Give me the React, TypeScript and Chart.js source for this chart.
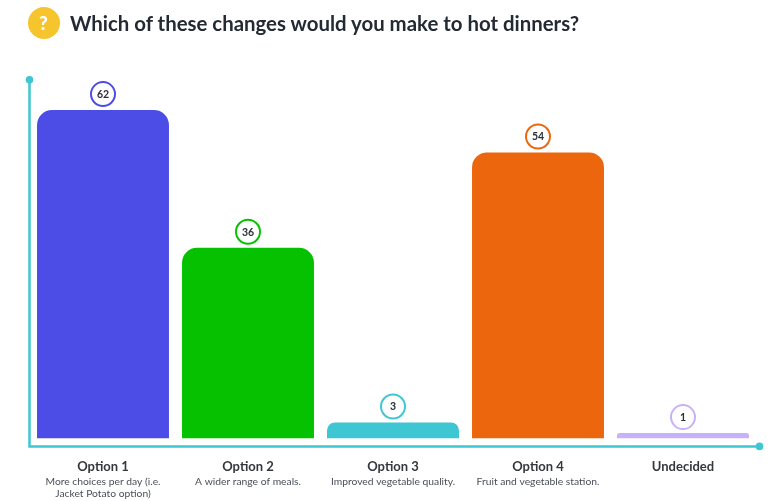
import React, { useEffect, useRef } from "react";
import { Chart, registerables } from "chart.js";

Chart.register(...registerables);

const categories = ["Option 1", "Option 2", "Option 3", "Option 4", "Undecided"];
const details = [
  ["More choices per day (i.e.", "Jacket Potato option)"],
  ["A wider range of meals."],
  ["Improved vegetable quality."],
  ["Fruit and vegetable station."],
  [] as string[],
];
const values = [62, 36, 3, 54, 1];
const barColors = ["#4c4de6", "#05c100", "#3ec6d3", "#ec660e", "#c9b0fb"];

const AXIS = "#3ec6d3";
const FONT = "Lato, sans-serif";

const decorations = {
  id: "decorations",
  afterDatasetsDraw(chart: any) {
    const { ctx, chartArea, scales } = chart;
    const x = scales.x;
    const y = scales.y;
    const axisX = chartArea.left - 1;
    const axisY = chartArea.bottom + 8;
    const endX = x.right + 4;
    const topY = chartArea.top + 1.5;

    ctx.save();
    // axis lines with end dots
    ctx.strokeStyle = AXIS;
    ctx.lineWidth = 2.5;
    ctx.beginPath();
    ctx.moveTo(axisX, topY);
    ctx.lineTo(axisX, axisY);
    ctx.lineTo(endX, axisY);
    ctx.stroke();
    ctx.fillStyle = AXIS;
    ctx.beginPath();
    ctx.arc(axisX, topY, 3.8, 0, Math.PI * 2);
    ctx.fill();
    ctx.beginPath();
    ctx.arc(endX, axisY, 3.8, 0, Math.PI * 2);
    ctx.fill();

    // value badges
    values.forEach((v, i) => {
      const cx = x.getPixelForValue(i);
      const cy = y.getPixelForValue(v) - 16;
      ctx.beginPath();
      ctx.arc(cx, cy, 12, 0, Math.PI * 2);
      ctx.fillStyle = "#ffffff";
      ctx.fill();
      ctx.lineWidth = 2;
      ctx.strokeStyle = barColors[i];
      ctx.stroke();
      ctx.fillStyle = "#2a2f38";
      ctx.font = `700 10.5px ${FONT}`;
      ctx.textAlign = "center";
      ctx.textBaseline = "middle";
      ctx.fillText(String(v), cx, cy + 0.5);
    });

    // option descriptions beneath the tick labels
    ctx.fillStyle = "#4a4f57";
    ctx.font = `400 10.3px ${FONT}`;
    ctx.textAlign = "center";
    ctx.textBaseline = "middle";
    details.forEach((lines, i) => {
      const cx = x.getPixelForValue(i);
      lines.forEach((line, j) => {
        ctx.fillText(line, cx, chartArea.bottom + 43 + j * 12);
      });
    });
    ctx.restore();
  },
};

export default function App() {
  const ref = useRef<HTMLCanvasElement>(null);

  useEffect(() => {
    const chart = new Chart(ref.current!, {
      type: "bar",
      data: {
        labels: categories,
        datasets: [
          {
            data: values,
            backgroundColor: barColors,
            borderRadius: { topLeft: 15, topRight: 15, bottomLeft: 0, bottomRight: 0 },
            borderSkipped: false,
            categoryPercentage: 1,
            barPercentage: 0.91,
          },
        ],
      },
      options: {
        responsive: false,
        animation: false,
        layout: { padding: { left: 30.5, right: 23.5, top: 78.3, bottom: 5 } },
        plugins: { legend: { display: false }, tooltip: { enabled: false } },
        scales: {
          x: {
            grid: { display: false, drawTicks: false },
            border: { display: false },
            ticks: {
              color: "#33373e",
              font: { family: FONT, size: 13, weight: "700" },
              padding: 21,
              autoSkip: false,
              maxRotation: 0,
            },
          },
          y: { display: false, min: 0, max: 68 },
        },
      },
      plugins: [decorations],
    });
    return () => chart.destroy();
  }, []);

  return (
    <div style={{ position: "absolute", left: 0, top: 0, width: 779, height: 501, background: "#fff", overflow: "hidden" }}>
      <canvas ref={ref} width={779} height={501} style={{ position: "absolute", left: 0, top: 0 }} />
      <div
        style={{
          position: "absolute", left: 27.5, top: 7, width: 32, height: 32, borderRadius: "50%",
          background: "#f6c42c", color: "#fff", font: `900 19px ${FONT}`, lineHeight: "32px", textAlign: "center",
        }}
      >
        ?
      </div>
      <div
        style={{
          position: "absolute", left: 70, top: 9, font: `700 20.4px ${FONT}`, lineHeight: "28px",
          color: "#242a33", whiteSpace: "nowrap",
        }}
      >
        Which of these changes would you make to hot dinners?
      </div>
    </div>
  );
}
